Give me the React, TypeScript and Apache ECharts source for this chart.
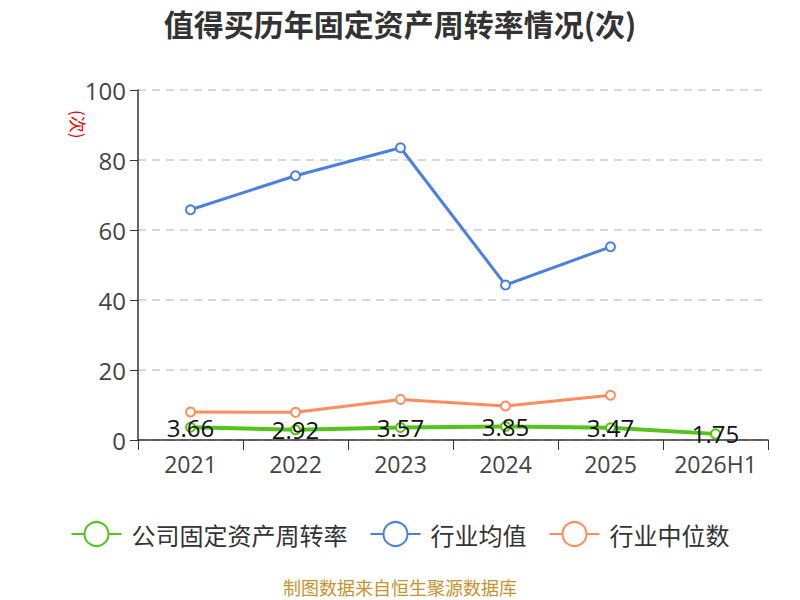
import React, { useEffect, useRef } from "react";
import * as echarts from "echarts";

const categories = ["2021", "2022", "2023", "2024", "2025", "2026H1"];
const companyValues = [3.66, 2.92, 3.57, 3.85, 3.47, 1.75];
const industryAvg = [65.8, 75.5, 83.5, 44.3, 55.2, null];
const industryMedian = [8.0, 7.9, 11.6, 9.7, 12.8, null];
const yTicks = { min: 0, max: 100, interval: 20 };

const FONT = "'Open Sans', 'Noto Sans CJK SC', sans-serif";
const CJK = "'Noto Sans CJK SC', 'Noto Sans', sans-serif";

export default function App() {
  const ref = useRef<HTMLDivElement>(null);
  useEffect(() => {
    if (!ref.current) return;
    const chart = echarts.init(ref.current, undefined, { renderer: "svg" });
    chart.setOption({
      animation: false,
      textStyle: { fontFamily: FONT },
      title: {
        text: "值得买历年固定资产周转率情况(次)",
        left: "center",
        top: 3,
        textStyle: { fontSize: 30, fontWeight: "bold", color: "#333", fontFamily: CJK },
      },
      legend: {
        bottom: 48,
        left: "center",
        itemWidth: 50,
        itemHeight: 30,
        itemGap: 22,
        textStyle: { fontSize: 24, color: "#333", fontFamily: CJK, padding: [0, 0, 0, 5] },
        data: ["公司固定资产周转率", "行业均值", "行业中位数"],
      },
      graphic: [
        {
          type: "text",
          left: "center",
          top: 578,
          style: { text: "制图数据来自恒生聚源数据库", fill: "#c8922c", fontSize: 18, fontFamily: CJK },
        },
        {
          type: "text",
          x: 87,
          y: 110,
          rotation: -Math.PI / 2,
          style: { text: "(次)", fill: "#e00", fontSize: 17, fontFamily: CJK },
        },
      ],
      grid: { left: 138, right: 32, top: 90, bottom: 160 },
      xAxis: {
        type: "category",
        data: categories,
        boundaryGap: true,
        axisLine: { lineStyle: { color: "#333", width: 1.5 } },
        axisTick: { show: true, interval: 0, length: 10, lineStyle: { color: "#333" } },
        axisLabel: { interval: 0, fontSize: 23, color: "#444", margin: 12, fontFamily: FONT },
      },
      yAxis: {
        type: "value",
        min: yTicks.min,
        max: yTicks.max,
        interval: yTicks.interval,
        axisLine: { show: true, lineStyle: { color: "#333", width: 1.5 } },
        axisTick: { show: true, length: 8, lineStyle: { color: "#333" } },
        axisLabel: { fontSize: 24, color: "#444", margin: 12, fontFamily: FONT },
        splitLine: { lineStyle: { type: [8, 6], color: "#ccc", width: 1.5 } },
      },
      series: [
        {
          name: "公司固定资产周转率",
          type: "line",
          data: companyValues,
          symbol: "emptyCircle",
          symbolSize: 9,
          lineStyle: { width: 4, color: "#52c41a" },
          itemStyle: { color: "#52c41a" },
          label: {
            show: true,
            position: "inside",
            fontSize: 24,
            color: "#111",
            fontFamily: FONT,
          },
          z: 3,
        },
        {
          name: "行业均值",
          type: "line",
          data: industryAvg,
          symbol: "emptyCircle",
          symbolSize: 9,
          lineStyle: { width: 3, color: "#4a80e0" },
          itemStyle: { color: "#4a80e0" },
        },
        {
          name: "行业中位数",
          type: "line",
          data: industryMedian,
          symbol: "emptyCircle",
          symbolSize: 9,
          lineStyle: { width: 3, color: "#ff8c5a" },
          itemStyle: { color: "#ff8c5a" },
        },
      ],
    });
    return () => chart.dispose();
  }, []);
  return <div ref={ref} style={{ width: 800, height: 600, position: "absolute", left: 0, top: 0 }} />;
}
